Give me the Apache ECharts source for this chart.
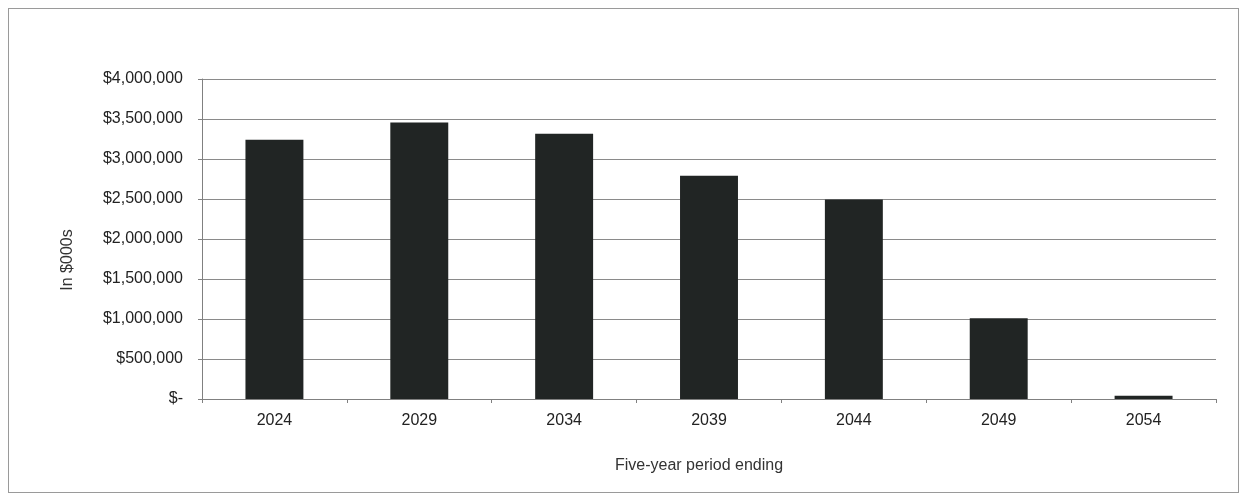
<!DOCTYPE html>
<html><head><meta charset="utf-8">
<script src="https://cdn.jsdelivr.net/npm/echarts@6/dist/echarts.min.js"></script>
<style>html,body{margin:0;padding:0;background:#fff}#frame{position:absolute;left:8px;top:8px;width:1231px;height:485px;border:1px solid #9a9a9a;box-sizing:border-box}#c{width:1248px;height:496px;position:absolute;left:0;top:0}</style>
</head><body><div id="frame"></div><div id="c"></div>
<script>
const categories = ['2024','2029','2034','2039','2044','2049','2054'];
const values = [3240000, 3455000, 3315000, 2790000, 2495000, 1010000, 40000];
const yTicks = [0, 500000, 1000000, 1500000, 2000000, 2500000, 3000000, 3500000, 4000000];
const xTitle = 'Five-year period ending';
const yTitle = 'In $000s';
const font = 'Liberation Sans, Arial, sans-serif';
const chart = echarts.init(document.getElementById('c'));
chart.setOption({
  animation: false,
  grid: {left: 202, right: 32, top: 79, bottom: 97},
  graphic: [
    {type: 'text', x: 699, y: 466, style: {text: xTitle, font: '16px ' + font, fill: '#333', textAlign: 'center', textVerticalAlign: 'middle'}},
    {type: 'text', x: 68, y: 260, rotation: Math.PI / 2, style: {text: yTitle, font: '16px ' + font, fill: '#333', textAlign: 'center', textVerticalAlign: 'middle'}}
  ],
  xAxis: {
    type: 'category', data: categories,
    axisLine: {lineStyle: {color: '#808080', width: 1}},
    axisTick: {show: true, alignWithLabel: false, length: 4, lineStyle: {color: '#808080'}},
    axisLabel: {fontFamily: font, fontSize: 16, color: '#222', margin: 14},
    splitLine: {show: false}
  },
  yAxis: {
    type: 'value', min: 0, max: yTicks[yTicks.length-1], interval: yTicks[1]-yTicks[0],
    axisLine: {show: true, lineStyle: {color: '#808080', width: 1}},
    axisTick: {show: true, length: 4, lineStyle: {color: '#808080'}},
    axisLabel: {fontFamily: font, fontSize: 16, color: '#222', margin: 19,
      formatter: v => v === 0 ? '$-' : '$' + v.toLocaleString('en-US')},
    splitLine: {lineStyle: {color: '#8a8a8a', width: 1}}
  },
  series: [{
    type: 'bar', data: values, barWidth: '40%',
    itemStyle: {color: '#212524'}
  }]
});
</script></body></html>
